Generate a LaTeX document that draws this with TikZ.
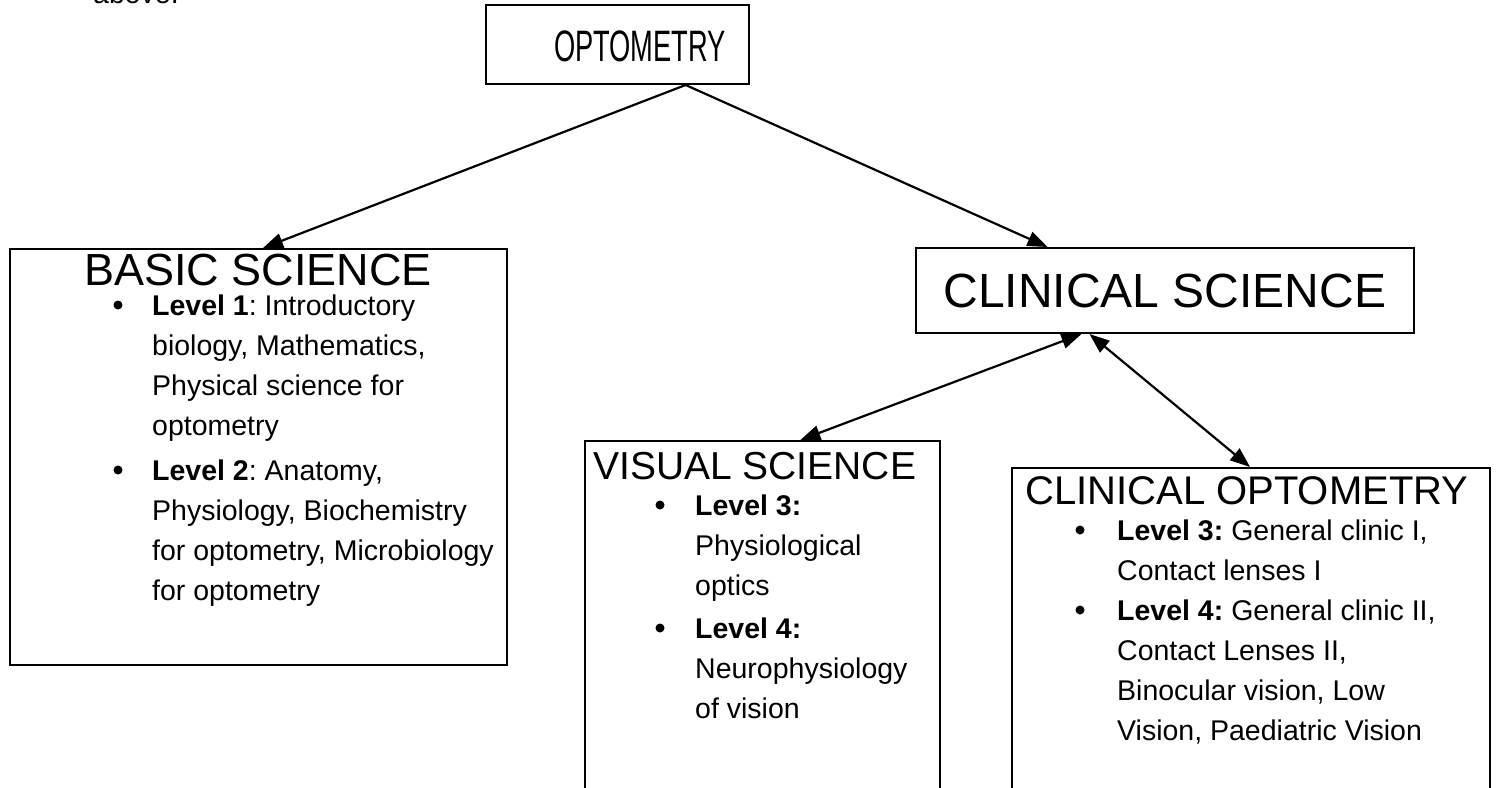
\documentclass[tikz,border=0pt]{standalone}
\usepackage{fontspec}
\setmainfont{Liberation Sans}
\usetikzlibrary{arrows.meta,calc}
\begin{document}
\frenchspacing
\begin{tikzpicture}[x=1pt,y=-1pt,
 box/.style={draw,line width=2pt,inner sep=0pt},
 ttl/.style={anchor=base,inner sep=0pt},
 ttlw/.style={anchor=base west,inner sep=0pt},
 txt/.style={anchor=base west,inner sep=0pt,font=\fontsize{28.5}{28.5}\selectfont},
 bul/.style={circle,fill,inner sep=0pt,minimum size=9pt},
 tip/.tip={Triangle[length=20pt,width=15pt]},
 arr/.style={line width=2.2pt,-tip},
 darr/.style={line width=2.2pt,tip-tip}]
\useasboundingbox (0,0) rectangle (1496,787);
% boxes
\node[box,minimum width=263pt,minimum height=79pt] (opt) at (617.5,44.5) {};
\node[box,minimum width=497pt,minimum height=416pt] (basic) at (258.5,457) {};
\node[box,minimum width=498pt,minimum height=85pt] (clin) at (1165,290.5) {};
\node[box,minimum width=355pt,minimum height=359pt] (vis) at (762.5,620.5) {};
\node[box,minimum width=478pt,minimum height=332pt] (cop) at (1251,634) {};
% connectors
\draw[arr] ($(opt.south west)!0.757!(opt.south east)$) -- ($(basic.north west)!0.509!(basic.north east)$);
\draw[arr] ($(opt.south west)!0.757!(opt.south east)$) -- ($(clin.north west)!0.265!(clin.north east)$);
\draw[darr] ($(clin.south west)!0.333!(clin.south east)$) -- ($(vis.north west)!0.606!(vis.north east)$);
\draw[darr] ($(clin.south west)!0.349!(clin.south east)$) -- ($(cop.north west)!0.498!(cop.north east)$);
% texts
\node[txt] (above) at (93,4) {above.};
\node[ttl,font=\fontsize{44}{44}\selectfont] (optt) at (640,61) {\scalebox{0.62}[1]{OPTOMETRY}};
\node[ttl,font=\fontsize{45}{45}\selectfont] (basict) at (258,285) {BASIC SCIENCE};
\node[bul] (b1) at (118,305) {};
\node[txt] (l1) at (152,315) {\textbf{Level 1}: Introductory};
\node[txt] (l2) at (152,355) {biology, Mathematics,};
\node[txt] (l3) at (152,395) {Physical science for};
\node[txt] (l4) at (152,435) {optometry};
\node[bul] (b2) at (118,470) {};
\node[txt] (l5) at (152,480) {\textbf{Level 2}: Anatomy,};
\node[txt] (l6) at (152,520) {Physiology, Biochemistry};
\node[txt] (l7) at (152,560) {for optometry, Microbiology};
\node[txt] (l8) at (152,600) {for optometry};
\node[ttl,font=\fontsize{48}{48}\selectfont] (clint) at (1165,307) {CLINICAL SCIENCE};
\node[ttlw,font=\fontsize{39}{39}\selectfont] (vist) at (593,479) {VISUAL SCIENCE};
\node[bul] (v1) at (660,505) {};
\node[txt] (vl1) at (695,515) {\textbf{Level 3:}};
\node[txt] (vl2) at (695,555) {Physiological};
\node[txt] (vl3) at (695,595) {optics};
\node[bul] (v2) at (660,628) {};
\node[txt] (vl4) at (695,638) {\textbf{Level 4:}};
\node[txt] (vl5) at (695,678) {Neurophysiology};
\node[txt] (vl6) at (695,718) {of vision};
\node[ttlw,font=\fontsize{40}{40}\selectfont] (copt) at (1025,504) {CLINICAL OPTOMETRY};
\node[bul] (c1) at (1080,530) {};
\node[txt] (cl1) at (1117,540) {\textbf{Level 3:} General clinic I,};
\node[txt] (cl2) at (1117,580) {Contact lenses I};
\node[bul] (c2) at (1080,610) {};
\node[txt] (cl3) at (1117,620) {\textbf{Level 4:} General clinic II,};
\node[txt] (cl4) at (1117,660) {Contact Lenses II,};
\node[txt] (cl5) at (1117,700) {Binocular vision, Low};
\node[txt] (cl6) at (1117,740) {Vision, Paediatric Vision};
\end{tikzpicture}
\end{document}
